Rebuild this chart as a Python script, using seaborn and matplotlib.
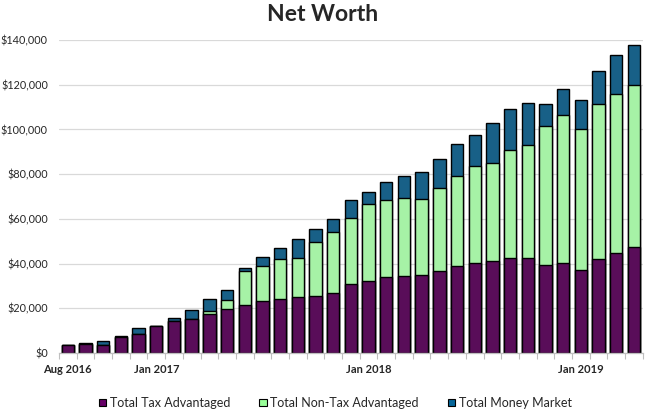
import pandas as pd
import numpy as np

import matplotlib
matplotlib.use("Agg")
import matplotlib.pyplot as plt
import matplotlib.ticker as mticker
from matplotlib.patches import Patch
import seaborn as sns

# ==========================================
# DATA
# ==========================================

months = list(pd.date_range("2016-08-01", "2019-04-01", freq="MS").strftime("%b %Y"))

tax_advantaged = [3400, 4200, 3700, 7100, 8600, 12000, 14200, 15400, 17600,
                  19600, 21300, 23100, 24400, 24900, 25300, 26700, 30700, 32400, 34200,
                  34400, 35000, 36800, 39000, 40400, 41200, 42400, 42400, 39500, 40400,
                  37200, 42100, 44800, 47500]

non_tax_advantaged = [0, 0, 0, 0, 0, 0, 0, 0, 1200,
                      4100, 15600, 15800, 17600, 17600, 24500, 27300, 29700, 34300, 34200,
                      34800, 33800, 36900, 40100, 43100, 43800, 48400, 50700, 61900, 66100,
                      63000, 69300, 71000, 72400]

money_market = [0, 300, 1800, 600, 2700, 300, 1500, 4000, 5600,
                4700, 1300, 4200, 5100, 8600, 5700, 6000, 8000, 5300, 8000,
                10000, 12200, 13100, 14400, 14000, 17900, 18300, 18700, 10000, 11600,
                13000, 14700, 17500, 17800]

tick_labels = ["Aug 2016", "Jan 2017", "Jan 2018", "Jan 2019"]

series_names = ["Total Tax Advantaged", "Total Non-Tax Advantaged", "Total Money Market"]
colors = ["#660066", "#99FF99", "#066699"]

df = pd.DataFrame({
    "Month": months,
    "tax": tax_advantaged,
    "nontax": non_tax_advantaged,
    "mm": money_market,
})
df["lvl1"] = df["tax"]
df["lvl2"] = df["tax"] + df["nontax"]
df["lvl3"] = df["lvl2"] + df["mm"]

# ==========================================
# PLOT
# ==========================================

sns.set_theme(style="white")
plt.rcParams["font.family"] = ["Lato", "DejaVu Sans"]

fig = plt.figure(figsize=(6.45, 4.12), dpi=100)
ax = fig.add_axes([0.0915, 0.143, 0.905, 0.760])

ax.yaxis.grid(True, color="#D9D9D9", linewidth=0.9)
ax.set_axisbelow(True)

# stacked bars drawn as cumulative totals, top layer first
for col, color in zip(["lvl3", "lvl2", "lvl1"], colors[::-1]):
    sns.barplot(
        data=df, x="Month", y=col, order=months,
        color=color, edgecolor="black", linewidth=1.0,
        width=0.7, ax=ax, zorder=2
    )

ax.set_ylim(0, 140000)
ax.set_xlim(-0.5, len(months) - 0.5)
ax.yaxis.set_major_locator(mticker.MultipleLocator(20000))
ax.yaxis.set_major_formatter(mticker.StrMethodFormatter("${x:,.0f}"))

label_pos = [months.index(t) for t in tick_labels]
ax.set_xticks(label_pos)
ax.set_xticklabels(tick_labels, fontweight="bold", fontsize=8)
ax.set_xticks(np.arange(len(months) + 1) - 0.5, minor=True)
ax.tick_params(axis="x", which="major", length=0, pad=8)
ax.tick_params(axis="x", which="minor", length=4, color="#BFBFBF", width=0.8, bottom=True)
ax.tick_params(axis="y", length=0, labelsize=7.8, pad=8)

ax.set_xlabel("")
ax.set_ylabel("")

for side in ["top", "right", "left"]:
    ax.spines[side].set_visible(False)
ax.spines["bottom"].set_color("#BFBFBF")
ax.spines["bottom"].set_linewidth(0.9)

fig.suptitle("Net Worth", fontsize=16.5, fontweight="bold", y=0.966, va="center")

handles = [Patch(facecolor=c, edgecolor="black", linewidth=0.8) for c in colors]
fig.legend(
    handles, series_names,
    loc="center", bbox_to_anchor=(0.52, 0.022),
    ncol=3, frameon=False, fontsize=9,
    handlelength=0.6, handleheight=0.6, handletextpad=0.3,
    columnspacing=2.3
)

fig.savefig("out.png", dpi=100)
